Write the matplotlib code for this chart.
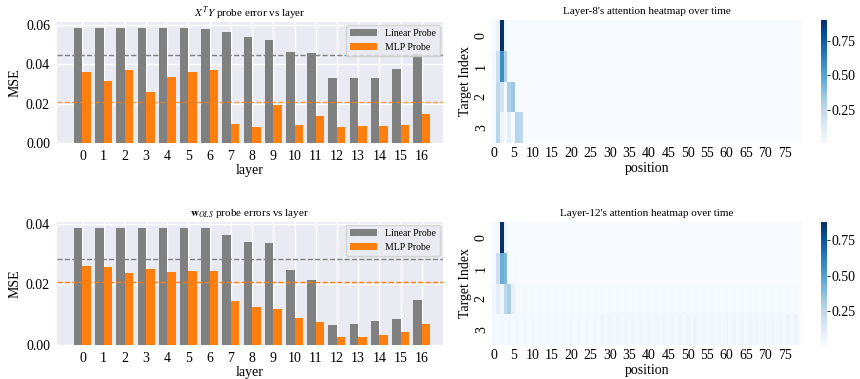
import numpy as np
import matplotlib
matplotlib.use("Agg")
import matplotlib.pyplot as plt

plt.rcParams['font.family'] = ['Liberation Serif', 'DejaVu Serif']
plt.rcParams['mathtext.fontset'] = 'stix'

# Данные: ошибки зондов по слоям
layers = list(range(17))

xty_linear = [0.0587, 0.0587, 0.0587, 0.0587, 0.0587, 0.0587, 0.0580, 0.0565, 0.0541,
              0.0524, 0.0465, 0.0460, 0.0332, 0.0332, 0.0332, 0.0378, 0.0452]
xty_mlp = [0.0363, 0.0317, 0.0373, 0.0258, 0.0337, 0.0363, 0.0373, 0.0099, 0.0079,
           0.0196, 0.0094, 0.0140, 0.0079, 0.0089, 0.0089, 0.0094, 0.0150]
xty_baselines = [0.0449, 0.0211]

wols_linear = [0.0386, 0.0386, 0.0386, 0.0386, 0.0386, 0.0386, 0.0386, 0.0362, 0.0339,
               0.0335, 0.0247, 0.0214, 0.0066, 0.0069, 0.0079, 0.0085, 0.0148]
wols_mlp = [0.0260, 0.0256, 0.0237, 0.0250, 0.0240, 0.0243, 0.0243, 0.0145, 0.0125,
            0.0118, 0.0089, 0.0076, 0.0026, 0.0026, 0.0033, 0.0043, 0.0069]
wols_baselines = [0.0285, 0.0206]

# Тепловые карты внимания (4 цели x 80 позиций)
layer8_att = [
    [0.02, 0.06, 0.90, 0.05, 0.01, 0.01, 0.01, 0.01, 0.01, 0.01, 0.01, 0.01, 0.01, 0.01, 0.01, 0.01,
     0.01, 0.01, 0.01, 0.01, 0.01, 0.01, 0.01, 0.01, 0.01, 0.01, 0.01, 0.01, 0.01, 0.01, 0.01, 0.01,
     0.01, 0.01, 0.01, 0.01, 0.01, 0.01, 0.01, 0.01, 0.01, 0.01, 0.01, 0.01, 0.01, 0.01, 0.01, 0.01,
     0.01, 0.01, 0.01, 0.01, 0.01, 0.01, 0.01, 0.01, 0.01, 0.01, 0.01, 0.01, 0.01, 0.01, 0.01, 0.01,
     0.01, 0.01, 0.01, 0.01, 0.01, 0.01, 0.01, 0.01, 0.01, 0.01, 0.01, 0.01, 0.01, 0.01, 0.01, 0.01],
    [0.03, 0.20, 0.58, 0.30, 0.01, 0.01, 0.01, 0.01, 0.01, 0.01, 0.01, 0.01, 0.01, 0.01, 0.01, 0.01,
     0.01, 0.01, 0.01, 0.01, 0.01, 0.01, 0.01, 0.01, 0.01, 0.01, 0.01, 0.01, 0.01, 0.01, 0.01, 0.01,
     0.01, 0.01, 0.01, 0.01, 0.01, 0.01, 0.01, 0.01, 0.01, 0.01, 0.01, 0.01, 0.01, 0.01, 0.01, 0.01,
     0.01, 0.01, 0.01, 0.01, 0.01, 0.01, 0.01, 0.01, 0.01, 0.01, 0.01, 0.01, 0.01, 0.01, 0.01, 0.01,
     0.01, 0.01, 0.01, 0.01, 0.01, 0.01, 0.01, 0.01, 0.01, 0.01, 0.01, 0.01, 0.01, 0.01, 0.01, 0.01],
    [0.02, 0.25, 0.17, 0.02, 0.30, 0.35, 0.01, 0.01, 0.01, 0.01, 0.01, 0.01, 0.01, 0.01, 0.01, 0.01,
     0.01, 0.01, 0.01, 0.01, 0.01, 0.01, 0.01, 0.01, 0.01, 0.01, 0.01, 0.01, 0.01, 0.01, 0.01, 0.01,
     0.01, 0.01, 0.01, 0.01, 0.01, 0.01, 0.01, 0.01, 0.01, 0.01, 0.01, 0.01, 0.01, 0.01, 0.01, 0.01,
     0.01, 0.01, 0.01, 0.01, 0.01, 0.01, 0.01, 0.01, 0.01, 0.01, 0.01, 0.01, 0.01, 0.01, 0.01, 0.01,
     0.01, 0.01, 0.01, 0.01, 0.01, 0.01, 0.01, 0.01, 0.01, 0.01, 0.01, 0.01, 0.01, 0.01, 0.01, 0.01],
    [0.02, 0.27, 0.06, 0.02, 0.10, 0.02, 0.28, 0.25, 0.01, 0.01, 0.01, 0.01, 0.01, 0.01, 0.01, 0.01,
     0.01, 0.01, 0.01, 0.01, 0.01, 0.01, 0.01, 0.01, 0.01, 0.01, 0.01, 0.01, 0.01, 0.01, 0.01, 0.01,
     0.01, 0.01, 0.01, 0.01, 0.01, 0.01, 0.01, 0.01, 0.01, 0.01, 0.01, 0.01, 0.01, 0.01, 0.01, 0.01,
     0.01, 0.01, 0.01, 0.01, 0.01, 0.01, 0.01, 0.01, 0.01, 0.01, 0.01, 0.01, 0.01, 0.01, 0.01, 0.01,
     0.01, 0.01, 0.01, 0.01, 0.01, 0.01, 0.01, 0.01, 0.01, 0.01, 0.01, 0.01, 0.01, 0.01, 0.01, 0.01],
]

layer12_att = [
    [0.01, 0.03, 0.88, 0.06, 0.01, 0.01, 0.01, 0.01, 0.01, 0.01, 0.01, 0.01, 0.01, 0.01, 0.01, 0.01,
     0.01, 0.01, 0.01, 0.01, 0.01, 0.01, 0.01, 0.01, 0.01, 0.01, 0.01, 0.01, 0.01, 0.01, 0.01, 0.01,
     0.01, 0.01, 0.01, 0.01, 0.01, 0.01, 0.01, 0.01, 0.01, 0.01, 0.01, 0.01, 0.01, 0.01, 0.01, 0.01,
     0.01, 0.01, 0.01, 0.01, 0.01, 0.01, 0.01, 0.01, 0.01, 0.01, 0.01, 0.01, 0.01, 0.01, 0.01, 0.01,
     0.01, 0.01, 0.01, 0.01, 0.01, 0.01, 0.01, 0.01, 0.01, 0.01, 0.01, 0.01, 0.01, 0.01, 0.01, 0.01],
    [0.02, 0.20, 0.45, 0.41, 0.02, 0.01, 0.02, 0.01, 0.01, 0.01, 0.01, 0.01, 0.01, 0.01, 0.01, 0.01,
     0.01, 0.01, 0.01, 0.01, 0.01, 0.01, 0.01, 0.01, 0.01, 0.01, 0.01, 0.01, 0.01, 0.01, 0.01, 0.01,
     0.01, 0.01, 0.01, 0.01, 0.01, 0.01, 0.01, 0.01, 0.01, 0.01, 0.01, 0.01, 0.01, 0.01, 0.01, 0.01,
     0.01, 0.01, 0.01, 0.01, 0.01, 0.01, 0.01, 0.01, 0.01, 0.01, 0.01, 0.01, 0.01, 0.01, 0.01, 0.01,
     0.01, 0.01, 0.01, 0.01, 0.01, 0.01, 0.01, 0.01, 0.01, 0.01, 0.01, 0.01, 0.01, 0.01, 0.01, 0.01],
    [0.04, 0.10, 0.05, 0.25, 0.30, 0.08, 0.025, 0.02, 0.025, 0.02, 0.025, 0.02, 0.025, 0.02, 0.025, 0.02,
     0.025, 0.02, 0.025, 0.02, 0.025, 0.02, 0.025, 0.02, 0.025, 0.02, 0.025, 0.02, 0.025, 0.02, 0.025, 0.02,
     0.025, 0.02, 0.025, 0.02, 0.025, 0.02, 0.025, 0.02, 0.025, 0.02, 0.025, 0.02, 0.025, 0.02, 0.025, 0.02,
     0.025, 0.02, 0.025, 0.02, 0.025, 0.02, 0.025, 0.02, 0.025, 0.02, 0.025, 0.02, 0.025, 0.02, 0.025, 0.02,
     0.025, 0.02, 0.025, 0.02, 0.025, 0.02, 0.025, 0.02, 0.025, 0.02, 0.025, 0.02, 0.025, 0.02, 0.025, 0.01],
    [0.03, 0.02, 0.03, 0.02, 0.03, 0.02, 0.03, 0.02, 0.03, 0.02, 0.03, 0.02, 0.03, 0.02, 0.03, 0.02,
     0.03, 0.02, 0.03, 0.02, 0.03, 0.02, 0.03, 0.02, 0.03, 0.02, 0.03, 0.02, 0.045, 0.02, 0.045, 0.02,
     0.045, 0.02, 0.045, 0.02, 0.045, 0.02, 0.045, 0.02, 0.045, 0.02, 0.045, 0.02, 0.045, 0.02, 0.045, 0.02,
     0.05, 0.02, 0.05, 0.02, 0.05, 0.02, 0.05, 0.02, 0.05, 0.02, 0.05, 0.02, 0.05, 0.02, 0.05, 0.02,
     0.05, 0.02, 0.05, 0.02, 0.05, 0.02, 0.05, 0.02, 0.05, 0.02, 0.05, 0.02, 0.05, 0.02, 0.05, 0.01],
]

GRAY = '#808080'
ORANGE = '#ff7f0e'
W, H = 860, 379


def px_axes(fig, x0, y0, x1, y1):
    # координаты в пикселях (от верхнего левого угла)
    return fig.add_axes([x0 / W, 1 - y1 / H, (x1 - x0) / W, (y1 - y0) / H])


def bar_panel(ax, linear, mlp, baselines, title, base_alpha=1.0):
    x = np.array(layers)
    ax.set_facecolor('#EAEAF2')
    ax.grid(True, color='white', linewidth=1)
    ax.set_axisbelow(True)
    for s in ax.spines.values():
        s.set_visible(False)
    ax.bar(x - 0.2, linear, width=0.4, color=GRAY, label='Linear Probe')
    ax.bar(x + 0.2, mlp, width=0.4, color=ORANGE, label='MLP Probe')
    ax.axhline(baselines[0], color=GRAY, linestyle='--', linewidth=1)
    ax.axhline(baselines[1], color=ORANGE, linestyle='--', linewidth=1, alpha=base_alpha)
    ax.set_xlim(-1.2, 17.0)
    ax.set_xticks(x)
    ax.tick_params(length=0, labelsize=10, pad=5)
    ax.set_xlabel('layer', fontsize=10, labelpad=1)
    ax.set_ylabel('MSE', fontsize=10, labelpad=3)
    ax.set_title(title, fontsize=8, pad=4)
    ax.legend(loc='upper right', fontsize=7, frameon=True, facecolor='#EAEAF2',
              edgecolor='#cccccc', framealpha=0.8, handlelength=2.8, borderaxespad=0.3)


def heat_panel(fig, ax, cax, data, title):
    data = np.array(data)
    mesh = ax.pcolormesh(np.arange(data.shape[1] + 1), np.arange(data.shape[0] + 1), data,
                         cmap='Blues', vmin=data.min(), vmax=data.max())
    ax.set_xlim(0, data.shape[1])
    ax.set_ylim(data.shape[0], 0)
    for s in ax.spines.values():
        s.set_visible(False)
    ax.set_xticks(np.arange(0, data.shape[1], 5) + 0.5)
    ax.set_xticklabels([str(i) for i in range(0, data.shape[1], 5)])
    ax.set_yticks(np.arange(data.shape[0]) + 0.5)
    ax.set_yticklabels([str(i) for i in range(data.shape[0])], rotation=90, va='center')
    ax.tick_params(length=0, labelsize=10, pad=3)
    ax.set_xlabel('position', fontsize=10, labelpad=1)
    ax.set_ylabel('Target Index', fontsize=10, labelpad=2)
    ax.set_title(title, fontsize=8, pad=4)
    cb = fig.colorbar(mesh, cax=cax, ticks=[0.25, 0.5, 0.75])
    cb.outline.set_visible(False)
    cb.ax.tick_params(length=2.5, width=0.6, labelsize=10, pad=1)
    cb.ax.set_yticklabels(['0.25', '0.50', '0.75'])


fig = plt.figure(figsize=(W / 100, H / 100), dpi=100)

ax1 = px_axes(fig, 57, 22, 443, 143)
bar_panel(ax1, xty_linear, xty_mlp, xty_baselines, r'$X^TY$ probe error vs layer', base_alpha=0.7)

ax2 = px_axes(fig, 57, 222, 443, 345)
bar_panel(ax2, wols_linear, wols_mlp, wols_baselines, r'$\mathbf{w}_{OLS}$ probe errors vs layer')

ax3 = px_axes(fig, 492, 20, 802, 143)
cax3 = px_axes(fig, 821, 20, 827, 143)
heat_panel(fig, ax3, cax3, layer8_att, "Layer-8's attention heatmap over time")

ax4 = px_axes(fig, 492, 222, 802, 345)
cax4 = px_axes(fig, 821, 222, 827, 345)
heat_panel(fig, ax4, cax4, layer12_att, "Layer-12's attention heatmap over time")

plt.savefig('out.png', dpi=100)
